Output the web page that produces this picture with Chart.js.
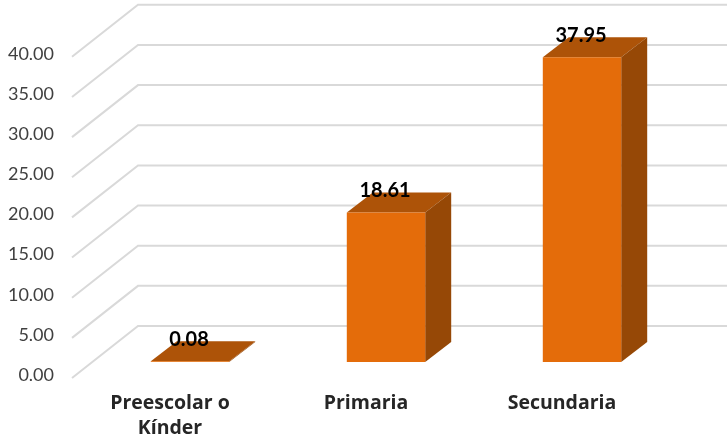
<!DOCTYPE html>
<html>
<head>
<meta charset="utf-8">
<script src="https://cdn.jsdelivr.net/npm/chart.js"></script>
<style>
  html, body { margin: 0; padding: 0; background: #fff; }
  canvas { display: block; }
</style>
</head>
<body>
<canvas id="levelChart" width="727" height="437"></canvas>
<script>
const categories = [['Preescolar o', 'Kínder'], 'Primaria', 'Secundaria'];
const values = [0.08, 18.61, 37.95];

const FONT = 'Lato, sans-serif';
const FRONT = '#E46C0A', TOP = '#AD5308', SIDE = '#964806';
const DEPTH_X = 26, DEPTH_Y = 20; // bar depth

function poly(ctx, pts, color) {
    ctx.fillStyle = color;
    ctx.beginPath();
    pts.forEach((p, i) => i ? ctx.lineTo(p[0], p[1]) : ctx.moveTo(p[0], p[1]));
    ctx.closePath();
    ctx.fill();
}

// back wall and side wall lines, follow the y scale
const wallPlugin = {
    id: 'wall',
    beforeDatasetsDraw(chart) {
        const { ctx, chartArea, scales } = chart;
        ctx.save();
        ctx.strokeStyle = '#D9D9D9';
        ctx.lineWidth = 2;
        scales.y.ticks.forEach(t => {
            const y = scales.y.getPixelForValue(t.value);
            ctx.beginPath();
            ctx.moveTo(chartArea.left - 20, y + 16);
            ctx.lineTo(chartArea.left + 46, y - 36);
            ctx.lineTo(chart.width, y - 36);
            ctx.stroke();
        });
        ctx.restore();
    }
};

// top and side faces of the bars, then the value labels
const boxPlugin = {
    id: 'box',
    beforeDatasetsDraw(chart) {
        const { ctx } = chart;
        chart.getDatasetMeta(0).data.forEach(bar => {
            const l = bar.x - bar.width / 2, r = bar.x + bar.width / 2;
            poly(ctx, [[l, bar.y], [r, bar.y], [r + DEPTH_X, bar.y - DEPTH_Y], [l + DEPTH_X, bar.y - DEPTH_Y]], TOP);
            poly(ctx, [[r, bar.y], [r + DEPTH_X, bar.y - DEPTH_Y], [r + DEPTH_X, bar.base - DEPTH_Y], [r, bar.base]], SIDE);
        });
    },
    afterDatasetsDraw(chart) {
        const { ctx } = chart;
        ctx.save();
        ctx.font = 'bold 20px ' + FONT;
        ctx.fillStyle = '#000';
        ctx.textAlign = 'center';
        ctx.textBaseline = 'middle';
        chart.getDatasetMeta(0).data.forEach((bar, i) => {
            ctx.fillText(values[i].toFixed(2), bar.x - 1, bar.y - 22);
        });
        ctx.restore();
    }
};

new Chart(document.getElementById('levelChart'), {
    type: 'bar',
    data: {
        labels: categories,
        datasets: [{
            data: values,
            backgroundColor: FRONT,
            barPercentage: 0.4,
            categoryPercentage: 1
        }]
    },
    plugins: [wallPlugin, boxPlugin],
    options: {
        responsive: false,
        animation: false,
        layout: { padding: { top: 32, right: 47 } },
        plugins: { legend: { display: false }, tooltip: { enabled: false } },
        scales: {
            x: {
                grid: { display: false },
                border: { display: false },
                afterFit(scale) { scale.height = 75; },
                ticks: {
                    autoSkip: false,
                    maxRotation: 0,
                    padding: 21,
                    labelOffset: -20,
                    color: '#262626',
                    font: { family: 'Open Sans, sans-serif', size: 19.5, weight: 'bold', lineHeight: 1.28 }
                }
            },
            y: {
                min: 0,
                max: 40,
                grid: { display: false },
                border: { display: false },
                afterFit(scale) { scale.width = 92; },
                ticks: {
                    stepSize: 5,
                    padding: 30,
                    labelOffset: 13,
                    color: '#404040',
                    font: { family: FONT, size: 18 },
                    callback: v => v.toFixed(2)
                }
            }
        }
    }
});
</script>
</body>
</html>
